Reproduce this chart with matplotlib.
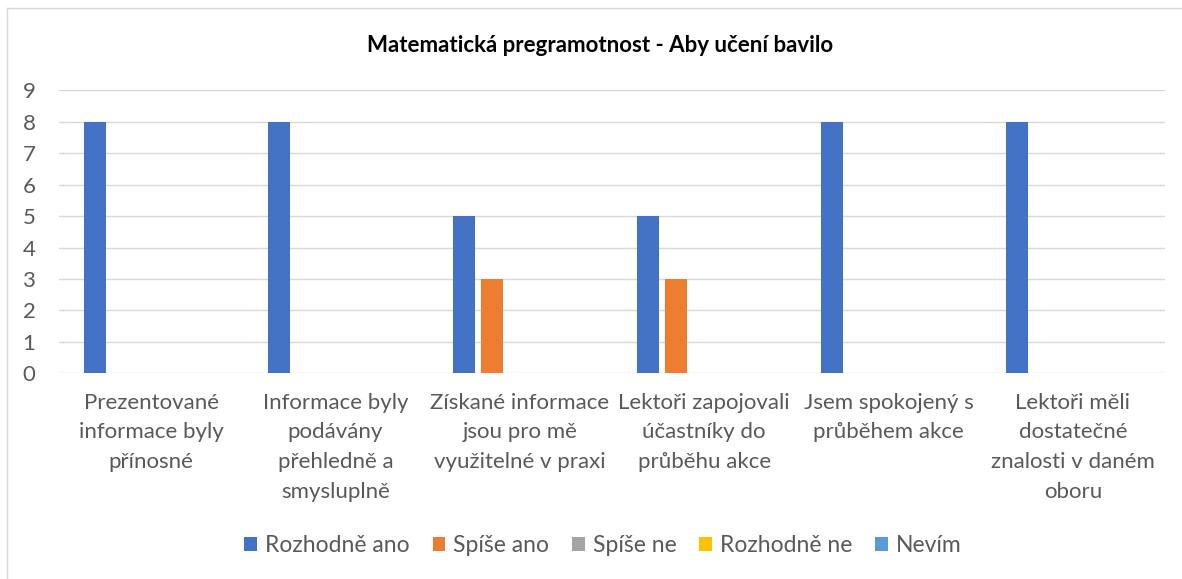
import numpy as np
import matplotlib.pyplot as plt
from matplotlib.patches import Patch
from matplotlib.lines import Line2D

# hodnoty grafu
categories = [
    "Prezentované\ninformace byly\npřínosné",
    "Informace byly\npodávány\npřehledně a\nsmysluplně",
    "Získané informace\njsou pro mě\nvyužitelné v praxi",
    "Lektoři zapojovali\núčastníky do\nprůběhu akce",
    "Jsem spokojený s\nprůběhem akce",
    "Lektoři měli\ndostatečné\nznalosti v daném\noboru",
]
series_names = ["Rozhodně ano", "Spíše ano", "Spíše ne", "Rozhodně ne", "Nevím"]
rozhodne_ano = [8, 8, 5, 5, 8, 8]
spise_ano = [0, 0, 3, 3, 0, 0]
spise_ne = [0, 0, 0, 0, 0, 0]
rozhodne_ne = [0, 0, 0, 0, 0, 0]
nevim = [0, 0, 0, 0, 0, 0]
colors = ["#4472C4", "#ED7D31", "#A5A5A5", "#FFC000", "#5B9BD5"]

values = [rozhodne_ano, spise_ano, spise_ne, rozhodne_ne, nevim]

plt.rcParams['font.family'] = ['Lato', 'DejaVu Sans']
text_col = "#595959"

fig = plt.figure(figsize=(11.82, 5.79), dpi=100)
ax = fig.add_axes([59/1182, 1 - 373.3/579, (1165 - 59)/1182, (373.3 - 90.3)/579])

x = np.arange(len(categories))
pitch = 0.152
width = 0.119
for i, (vals, col) in enumerate(zip(values, colors)):
    ax.bar(x + (i - 2) * pitch, vals, width=width, color=col, zorder=3)

ax.set_xlim(-0.5, len(categories) - 0.5)
ax.set_ylim(0, 9)
ax.set_yticks(range(0, 10))
ax.yaxis.grid(True, color="#D9D9D9", linewidth=1.0, zorder=0)
ax.set_axisbelow(True)
for s in ax.spines.values():
    s.set_visible(False)
ax.set_xticks(x)
ax.set_xticklabels(categories, fontsize=16, color=text_col, linespacing=1.6)
ax.tick_params(axis='both', length=0)
ax.tick_params(axis='x', pad=14)
ax.tick_params(axis='y', pad=17, labelsize=16, labelcolor=text_col)

fig.text(600/1182, 1 - 45/579, "Matematická pregramotnost - Aby učení bavilo",
         ha='center', va='center', fontsize=16, fontweight='bold', color='black')

# rámeček grafu
fig.add_artist(Line2D([6.5/1182, 1], [1 - 7.5/579] * 2, color="#D9D9D9", lw=1.0))
fig.add_artist(Line2D([6.5/1182] * 2, [0, 1 - 7.5/579], color="#D9D9D9", lw=1.0))

handles = [Patch(facecolor=c, edgecolor='none') for c in colors]
fig.legend(handles, series_names, loc='center', bbox_to_anchor=(603/1182, 1 - 546/579),
           ncol=5, frameon=False, fontsize=16.5, labelcolor=text_col,
           handlelength=0.55, handleheight=0.55, handletextpad=0.35, columnspacing=1.0)

fig.savefig("out.png", dpi=100)
